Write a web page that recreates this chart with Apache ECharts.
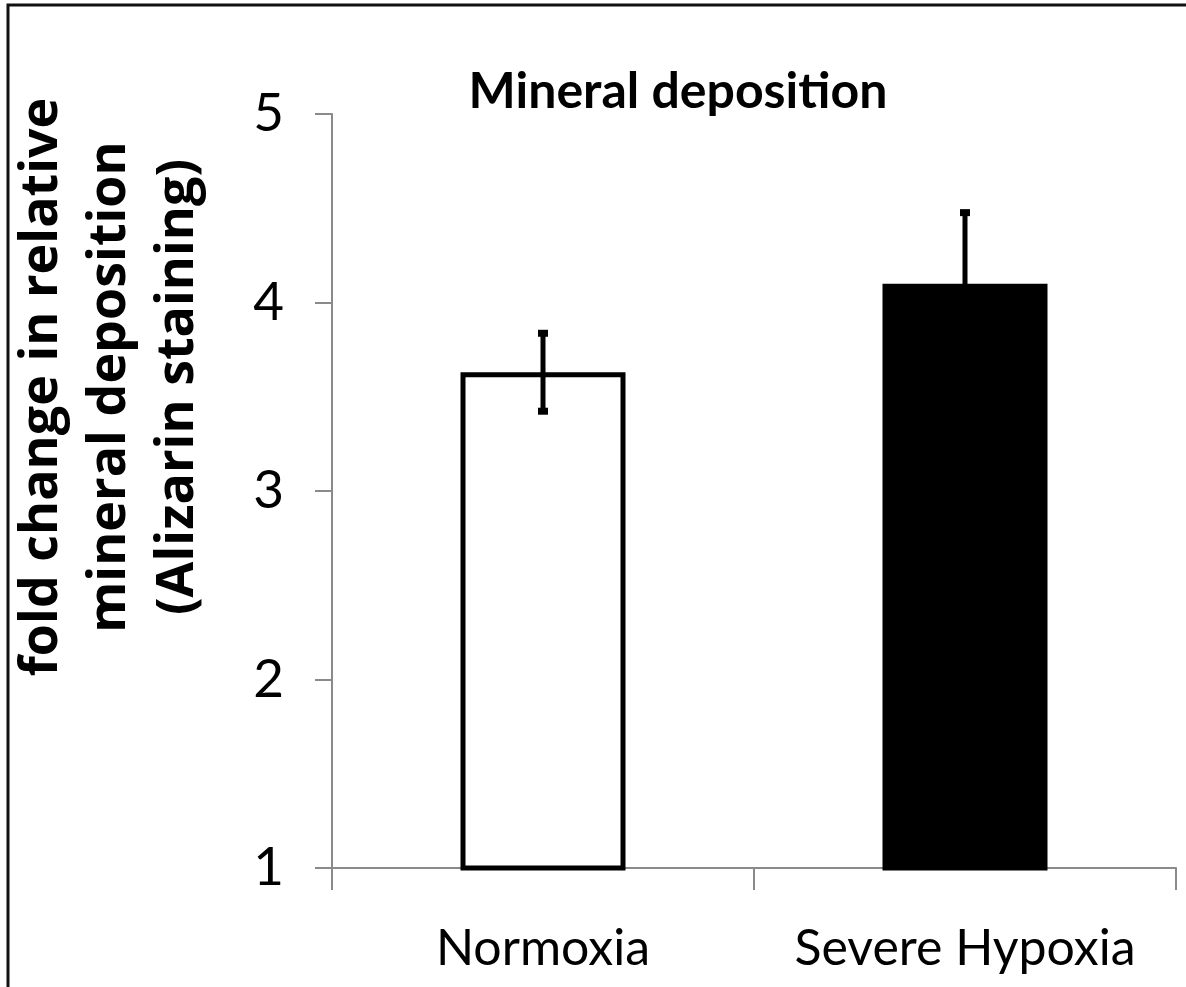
<!DOCTYPE html>
<html>
<head>
<meta charset="utf-8">
<script src="https://cdn.jsdelivr.net/npm/echarts@6/dist/echarts.min.js"></script>
<style>
  html, body { margin: 0; padding: 0; background: #fff; }
  #chart { width: 1186px; height: 987px; }
</style>
</head>
<body>
<div id="chart"></div>
<script>
// data
var categories = ["Normoxia", "Severe Hypoxia"];
var means = [3.63, 4.10];
var errors = [0.22, 0.39];
var barColors = ["#ffffff", "#000000"];
var yTicks = [1, 2, 3, 4, 5];

var black = "#000";
var gray = "#8a8a8a";
var font = "Lato, 'Open Sans', sans-serif";

var chart = echarts.init(document.getElementById("chart"));

var option = {
  backgroundColor: "#fff",
  animation: false,
  title: {
    text: "Mineral deposition",
    left: 673,
    top: 62,
    textAlign: "center",
    textStyle: {
      fontFamily: font,
      fontWeight: "bold",
      fontSize: 50,
      color: black
    }
  },
  graphic: [
    {
      type: "polyline",
      shape: { points: [[8, 1000], [8, 5], [1200, 5]] },
      style: { stroke: "#111", lineWidth: 3, fill: null }
    }
  ],
  grid: {
    left: 330,
    right: 10,
    top: 114,
    bottom: 119
  },
  xAxis: {
    type: "category",
    data: categories,
    axisLine: { show: true, lineStyle: { color: gray, width: 2 } },
    axisTick: { show: true, length: 22, lineStyle: { color: gray, width: 2 } },
    axisLabel: {
      interval: 0,
      margin: 56,
      fontFamily: font,
      fontSize: 50,
      color: black
    }
  },
  yAxis: {
    type: "value",
    min: yTicks[0],
    max: yTicks[yTicks.length - 1],
    interval: 1,
    name: "fold change in relative\nmineral deposition\n(Alizarin staining)",
    nameLocation: "middle",
    nameGap: 120,
    nameTextStyle: {
      fontFamily: "'Open Sans', Lato, sans-serif",
      fontWeight: "bold",
      fontSize: 52,
      lineHeight: 68,
      padding: [0, 0, 0, 208],
      color: black
    },
    axisLine: { show: true, lineStyle: { color: gray, width: 2 } },
    axisTick: { show: true, length: 17, lineStyle: { color: gray, width: 2 } },
    splitLine: { show: false },
    axisLabel: {
      margin: 48,
      fontFamily: font,
      fontSize: 53,
      color: black
    }
  },
  series: [
    {
      type: "bar",
      barWidth: 165,
      data: means.map(function (v, i) {
        return {
          value: v,
          itemStyle: {
            color: barColors[i],
            borderColor: black,
            borderWidth: 5
          }
        };
      }),
      z: 2
    },
    {
      type: "custom",
      z: 3,
      data: means.map(function (v, i) {
        return [i, v - errors[i], v + errors[i]];
      }),
      renderItem: function (params, api) {
        var lo = api.coord([api.value(0), api.value(1)]);
        var hi = api.coord([api.value(0), api.value(2)]);
        var x = lo[0];
        return {
          type: "group",
          children: [
            {
              type: "line",
              shape: { x1: x, y1: lo[1], x2: x, y2: hi[1] },
              style: { stroke: black, lineWidth: 5 }
            },
            {
              type: "rect",
              shape: { x: x - 5, y: hi[1] - 1, width: 10, height: 7 },
              style: { fill: black }
            },
            {
              type: "rect",
              shape: { x: x - 5, y: lo[1] - 6, width: 10, height: 7 },
              style: { fill: black }
            }
          ]
        };
      }
    }
  ]
};

chart.setOption(option);
</script>
</body>
</html>
